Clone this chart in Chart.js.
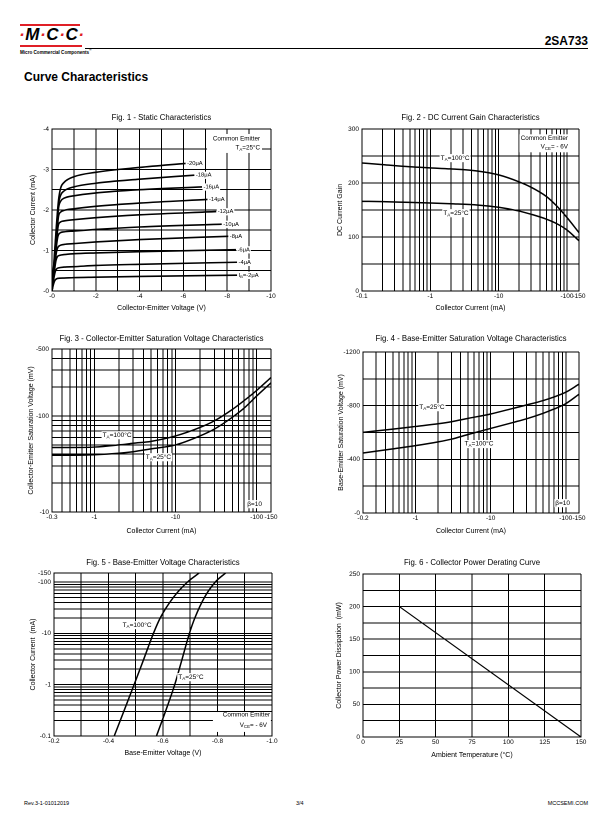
<!DOCTYPE html>
<html>
<head>
<meta charset="utf-8">
<script src="https://cdn.jsdelivr.net/npm/chart.js@4.4.1/dist/chart.umd.min.js"></script>
<style>
  body { margin: 0; width: 612px; height: 825px; position: relative; overflow: hidden; background: #fff;
         font-family: "Liberation Sans", Arial, sans-serif; color: #000; }
  canvas { position: absolute; }
  .bar { position: absolute; left: 20px; height: 2.5px; background: #e01f26; }
  .mcc { position: absolute; left: 19px; top: 25px; font-size: 17px; font-weight: bold; font-style: italic; letter-spacing: 0.6px; }
  .mcc span { color: #e01f26; }
  .mccsub { position: absolute; left: 20px; top: 47.5px; font-size: 4.6px; font-weight: bold; white-space: nowrap; }
  .rule { position: absolute; left: 85px; top: 48px; width: 503px; height: 1px; background: #000; }
  .part { position: absolute; right: 24px; top: 34px; font-size: 12px; font-weight: bold; }
  .heading { position: absolute; left: 24px; top: 70px; font-size: 12px; font-weight: bold; }
  .foot { position: absolute; top: 800px; font-size: 5.5px; }
</style>
</head>
<body>
<div class="bar" style="top:23.5px;width:60px"></div>
<div class="mcc"><span>·</span>M<span>·</span>C<span>·</span>C<span>·</span></div>
<div class="bar" style="top:44.5px;width:62px"></div>
<div class="mccsub">Micro Commercial Components<sup style="font-size:3px">®</sup></div>
<div class="rule"></div>
<div class="part">2SA733</div>
<div class="heading">Curve Characteristics</div>

<canvas id="fig1"></canvas>
<canvas id="fig2"></canvas>
<canvas id="fig3"></canvas>
<canvas id="fig4"></canvas>
<canvas id="fig5"></canvas>
<canvas id="fig6"></canvas>

<div class="foot" style="left:24px">Rev.3-1-01012019</div>
<div class="foot" style="left:296px">3/4</div>
<div class="foot" style="right:24px">MCCSEMI.COM</div>

<script>
// PNP part: currents and voltages are negative, as printed on the axes.

// Fig. 1 - Static characteristics, [Vce (V), Ic (mA)] for each base current
const ib20 = [[0,0],[-0.1,-0.8],[-0.2,-1.6],[-0.3,-2.25],[-0.4,-2.55],[-0.55,-2.68],[-1,-2.82],[-2,-2.93],[-4,-3.05],[-6.1,-3.15]];
const ib18 = [[0,0],[-0.1,-0.75],[-0.2,-1.5],[-0.3,-2.15],[-0.4,-2.37],[-0.55,-2.47],[-1,-2.57],[-2,-2.66],[-4,-2.76],[-6.5,-2.86]];
const ib16 = [[0,0],[-0.1,-0.7],[-0.2,-1.4],[-0.3,-2.05],[-0.4,-2.22],[-0.55,-2.29],[-1,-2.35],[-2,-2.42],[-4,-2.5],[-6.85,-2.57]];
const ib14 = [[0,0],[-0.1,-0.65],[-0.2,-1.3],[-0.3,-1.85],[-0.4,-1.95],[-0.55,-1.99],[-1,-2.03],[-2,-2.09],[-4,-2.17],[-7.1,-2.26]];
const ib12 = [[0,0],[-0.1,-0.6],[-0.2,-1.2],[-0.28,-1.6],[-0.38,-1.7],[-0.55,-1.73],[-1,-1.76],[-2,-1.81],[-4,-1.88],[-7.5,-1.96]];
const ib10 = [[0,0],[-0.1,-0.55],[-0.2,-1.1],[-0.27,-1.35],[-0.36,-1.43],[-0.55,-1.46],[-1,-1.48],[-2,-1.52],[-4,-1.58],[-7.75,-1.65]];
const ib8  = [[0,0],[-0.1,-0.5],[-0.2,-0.95],[-0.26,-1.07],[-0.35,-1.12],[-0.55,-1.15],[-1,-1.17],[-2,-1.21],[-4,-1.27],[-8.05,-1.35]];
const ib6  = [[0,0],[-0.1,-0.45],[-0.18,-0.75],[-0.25,-0.85],[-0.35,-0.88],[-0.55,-0.9],[-1,-0.92],[-2,-0.94],[-4,-0.97],[-8.4,-1.02]];
const ib4  = [[0,0],[-0.08,-0.3],[-0.15,-0.48],[-0.22,-0.55],[-0.3,-0.57],[-0.55,-0.59],[-1,-0.6],[-2,-0.63],[-4,-0.66],[-8.45,-0.71]];
const ib2  = [[0,0],[-0.06,-0.15],[-0.12,-0.25],[-0.18,-0.29],[-0.25,-0.31],[-0.55,-0.32],[-1,-0.33],[-2,-0.34],[-4,-0.36],[-8.45,-0.39]];
const fig1Curves = [ib20, ib18, ib16, ib14, ib12, ib10, ib8, ib6, ib4, ib2];
const fig1CurveLabels = ['-20μA', '-18μA', '-16μA', '-14μA', '-12μA', '-10μA', '-8μA', '-6μA', '-4μA', 'I_{B}=-2μA'];
const fig1XTicks = [0,1,2,3,4,5,6,7,8,9,10];
const fig1XLabels = [0,2,4,6,8,10];
const fig1YTicks = [0,0.5,1,1.5,2,2.5,3,3.5,4];
const fig1YLabels = [0,1,2,3,4];

// Fig. 2 - DC current gain vs collector current (mA)
const fig2Ic = [-0.1,-0.2,-0.5,-1,-2,-5,-10,-20,-30,-50,-70,-100,-150];
const fig2Hfe100 = [237,234,230,228,226,222,215,202,192,175,158,136,108];
const fig2Hfe25 = [166,165.5,164,163,161.5,159,155,148,142,133,125,113,93];
const fig2XTicks = [0.1,0.2,0.3,0.4,0.5,0.6,0.7,0.8,0.9,1,2,3,4,5,6,7,8,9,10,20,30,40,50,60,70,80,90,100,150];
const fig2XLabels = [0.1,1,10,100,150];
const fig2YTicks = [0,50,100,150,200,250,300];
const fig2YLabels = [0,100,200,300];

// Fig. 3 - Vce(sat) (mV) vs collector current (mA)
const fig3Ic = [-0.3,-0.5,-1,-2,-3,-5,-10,-20,-30,-50,-70,-100,-150];
const fig3Vce100 = [-47,-47,-47.5,-50,-52,-54.5,-62,-76,-89,-117,-145,-185,-252];
const fig3Vce25 = [-39,-39,-39.5,-41,-42.5,-45.5,-50,-62,-73,-97,-121,-162,-222];
const fig3XTicks = [0.3,0.4,0.5,0.6,0.7,0.8,0.9,1,2,3,4,5,6,7,8,9,10,20,30,40,50,60,70,80,90,100,150];
const fig3XLabels = [0.3,1,10,100,150];
const fig3YTicks = [10,20,30,40,50,60,70,80,90,100,200,300,400,500];
const fig3YLabels = [10,100,500];

// Fig. 4 - Vbe(sat) (mV) vs collector current (mA)
const fig4Ic = [-0.2,-0.5,-1,-2,-3,-5,-10,-20,-30,-50,-70,-100,-150];
const fig4Vbe25 = [-601,-625,-645,-665,-680,-705,-738,-780,-805,-838,-865,-900,-960];
const fig4Vbe100 = [-447,-478,-502,-530,-550,-585,-630,-675,-702,-743,-775,-815,-885];
const fig4XTicks = [0.2,0.3,0.4,0.5,0.6,0.7,0.8,0.9,1,2,3,4,5,6,7,8,9,10,20,30,40,50,60,70,80,90,100,150];
const fig4XLabels = [0.2,1,10,100,150];
const fig4YTicks = [0,200,400,600,800,1000,1200];
const fig4YLabels = [0,400,800,1200];

// Fig. 5 - collector current (mA) vs base-emitter voltage (V)
const fig5Ic = [-0.1,-0.3,-1,-3,-10,-20,-50,-100,-150];
const fig5Vbe100 = [-0.421,-0.456,-0.494,-0.528,-0.565,-0.59,-0.638,-0.69,-0.733];
const fig5Vbe25 = [-0.576,-0.609,-0.643,-0.669,-0.697,-0.717,-0.752,-0.792,-0.83];
const fig5XTicks = [0.2,0.3,0.4,0.5,0.6,0.7,0.8,0.9,1.0];
const fig5XLabels = [0.2,0.4,0.6,0.8,1.0];
const fig5YTicks = [0.1,0.2,0.3,0.4,0.5,0.6,0.7,0.8,0.9,1,2,3,4,5,6,7,8,9,10,20,30,40,50,60,70,80,90,100,150];
const fig5YLabels = [0.1,1,10,100,150];

// Fig. 6 - power derating
const fig6Temp = [25, 150];
const fig6Power = [200, 0];
const fig6XTicks = [0,25,50,75,100,125,150];
const fig6YTicks = [0,25,50,75,100,125,150,175,200,225,250];
const fig6YLabels = [0,50,100,150,200,250];

const FONT = '"Liberation Sans", Arial, sans-serif';

// text with _{subscript} parts, optional white background
function drawRich(ctx, str, x, y, size, align, bg) {
  const parts = [];
  str.split(/(_\{[^}]*\})/).forEach(s => {
    if (!s) return;
    if (s.startsWith('_{')) parts.push({ t: s.slice(2, -1), sub: true });
    else parts.push({ t: s, sub: false });
  });
  let w = 0;
  parts.forEach(p => {
    ctx.font = (p.sub ? size * 0.7 : size) + 'px ' + FONT;
    p.w = ctx.measureText(p.t).width;
    w += p.w;
  });
  let x0 = align === 'left' ? x : align === 'right' ? x - w : x - w / 2;
  if (bg) {
    ctx.fillStyle = '#fff';
    ctx.fillRect(x0 - 1, y - size * 0.6, w + 2, size * 1.25);
  }
  ctx.fillStyle = '#000';
  ctx.textAlign = 'left';
  ctx.textBaseline = 'middle';
  parts.forEach(p => {
    ctx.font = (p.sub ? size * 0.7 : size) + 'px ' + FONT;
    ctx.fillText(p.t, x0, p.sub ? y + size * 0.3 : y);
    x0 += p.w;
  });
}

// white boxes and labels placed by fraction of the plot area
function notes(cfg) {
  return {
    id: 'notes',
    beforeDatasetsDraw(chart) {
      const a = chart.chartArea, ctx = chart.ctx;
      (cfg.boxes || []).forEach(b => {
        const x0 = a.left + b[0] * a.width, y0 = a.top + b[1] * a.height;
        ctx.fillStyle = '#fff';
        ctx.fillRect(x0, y0, (b[2] - b[0]) * a.width, (b[3] - b[1]) * a.height);
      });
    },
    afterDatasetsDraw(chart) {
      const a = chart.chartArea, ctx = chart.ctx;
      ctx.save();
      (cfg.texts || []).forEach(t => {
        drawRich(ctx, t.text, a.left + t.fx * a.width, a.top + t.fy * a.height, t.size || 6.5, t.align || 'center', t.bg);
      });
      if (cfg.endLabels) {
        chart.data.datasets.forEach((ds, i) => {
          const pts = chart.getDatasetMeta(i).data;
          const p = pts[pts.length - 1];
          drawRich(ctx, cfg.endLabels[i], p.x + 1.5, p.y, 5.8, 'left', true);
        });
      }
      ctx.restore();
    }
  };
}

function axis(o) {
  return {
    type: o.type || 'linear',
    min: o.min, max: o.max,
    afterFit: s => { if (s.isHorizontal()) s.height = 24; else s.width = 32; },
    afterBuildTicks: s => { s.ticks = o.ticks.map(v => ({ value: v })); },
    grid: { color: '#000', lineWidth: 1, drawTicks: false },
    border: { color: '#000', width: 1 },
    ticks: {
      font: { family: FONT, size: 6.5 }, color: '#000', autoSkip: false, maxRotation: 0,
      padding: o.horiz ? 1.5 : 3,
      callback: v => o.labels.some(l => Math.abs(l - v) < 1e-9) ? o.fmt(v) : ''
    },
    title: {
      display: true, text: o.title, color: '#000', font: { family: FONT, size: 7 },
      padding: o.horiz ? { top: 0, bottom: o.tpad } : { top: o.tpad, bottom: 0 }
    }
  };
}

const neg = v => '-' + v;

function makeChart(id, geo, title, tpad, datasets, xAxis, yAxis, plugin) {
  const c = document.getElementById(id);
  const w = geo.R - geo.L + 64, h = geo.B - geo.T + 22 + 24;
  c.style.left = (geo.L - 32) + 'px';
  c.style.top = (geo.T - 22) + 'px';
  c.width = w; c.height = h;
  c.style.width = w + 'px'; c.style.height = h + 'px';
  return new Chart(c, {
    type: 'line',
    data: { datasets: datasets },
    options: {
      responsive: false, animation: false, devicePixelRatio: 2,
      layout: { padding: { left: 0, right: 32, top: 0, bottom: 0 } },
      plugins: {
        legend: { display: false }, tooltip: { enabled: false },
        title: { display: true, fullSize: false, text: title, color: '#000',
                 font: { family: FONT, size: 7.8, weight: 'normal' },
                 padding: { top: tpad[0], bottom: tpad[1] } }
      },
      scales: { x: xAxis, y: yAxis }
    },
    plugins: [plugin]
  });
}

function curve(xs, ys, width) {
  return {
    data: xs.map((x, i) => ({ x: Math.abs(x), y: Math.abs(ys[i]) })),
    borderColor: '#000', borderWidth: width || 1.5, pointRadius: 0,
    cubicInterpolationMode: 'monotone', fill: false
  };
}
function curvePairs(pts, width) {
  return curve(pts.map(p => p[0]), pts.map(p => p[1]), width);
}

// Fig. 1
makeChart('fig1', { L: 52, R: 271, T: 129, B: 291 }, 'Fig. 1 - Static Characteristics', [6.3, 6.3],
  fig1Curves.map(c => curvePairs(c, 1.6)),
  axis({ min: 0, max: 10, ticks: fig1XTicks, labels: fig1XLabels, fmt: neg, horiz: true,
         title: 'Collector-Emitter Voltage (V)', tpad: 2.8 }),
  axis({ min: 0, max: 4, ticks: fig1YTicks, labels: fig1YLabels, fmt: neg,
         title: 'Collector Current (mA)', tpad: 8.8 }),
  notes({
    boxes: [[0.708, 0.031, 0.959, 0.148]],
    texts: [
      { text: 'Common Emitter', fx: 0.95, fy: 0.062, align: 'right', size: 6.3 },
      { text: 'T_{A}=25°C', fx: 0.95, fy: 0.117, align: 'right', size: 6.3 }
    ],
    endLabels: fig1CurveLabels
  }));

// Fig. 2
makeChart('fig2', { L: 362, R: 579, T: 129, B: 291 }, 'Fig. 2 - DC Current Gain Characteristics', [6.3, 6.3],
  [curve(fig2Ic, fig2Hfe100), curve(fig2Ic, fig2Hfe25)],
  axis({ type: 'logarithmic', min: 0.1, max: 150, ticks: fig2XTicks, labels: fig2XLabels, fmt: neg, horiz: true,
         title: 'Collector Current (mA)', tpad: 2.8 }),
  axis({ min: 0, max: 300, ticks: fig2YTicks, labels: fig2YLabels, fmt: v => String(v),
         title: 'DC Current Gain', tpad: 5.8 }),
  notes({
    boxes: [[0.725, 0.033, 0.955, 0.144]],
    texts: [
      { text: 'Common Emitter', fx: 0.949, fy: 0.056, align: 'right', size: 6.3 },
      { text: 'V_{CE}= - 6V', fx: 0.949, fy: 0.111, align: 'right', size: 6.3 },
      { text: 'T_{A}=100°C', fx: 0.429, fy: 0.179, bg: true },
      { text: 'T_{A}=25°C', fx: 0.433, fy: 0.519, bg: true }
    ]
  }));

// Fig. 3
makeChart('fig3', { L: 52, R: 271, T: 349, B: 512 }, 'Fig. 3 - Collector-Emitter Saturation Voltage Characteristics', [7.3, 5.3],
  [curve(fig3Ic, fig3Vce100), curve(fig3Ic, fig3Vce25)],
  axis({ type: 'logarithmic', min: 0.3, max: 150, ticks: fig3XTicks, labels: fig3XLabels, fmt: neg, horiz: true,
         title: 'Collector Current (mA)', tpad: 0.8 }),
  axis({ type: 'logarithmic', min: 10, max: 500, ticks: fig3YTicks, labels: fig3YLabels, fmt: neg,
         title: 'Collector-Emitter Saturation Voltage (mV)', tpad: 6.8 }),
  notes({
    texts: [
      { text: 'T_{A}=100°C', fx: 0.297, fy: 0.528, bg: true },
      { text: 'T_{A}=25°C', fx: 0.486, fy: 0.663, bg: true },
      { text: 'β=10', fx: 0.925, fy: 0.951, bg: true }
    ]
  }));

// Fig. 4
makeChart('fig4', { L: 363, R: 579, T: 352, B: 513 }, 'Fig. 4 - Base-Emitter Saturation Voltage Characteristics', [4.3, 8.3],
  [curve(fig4Ic, fig4Vbe25), curve(fig4Ic, fig4Vbe100)],
  axis({ type: 'logarithmic', min: 0.2, max: 150, ticks: fig4XTicks, labels: fig4XLabels, fmt: neg, horiz: true,
         title: 'Collector Current (mA)', tpad: 1.8 }),
  axis({ min: 0, max: 1200, ticks: fig4YTicks, labels: fig4YLabels, fmt: neg,
         title: 'Base-Emitter Saturation Voltage (mV)', tpad: 5.8 }),
  notes({
    texts: [
      { text: 'T_{A}=25°C', fx: 0.319, fy: 0.342, bg: true },
      { text: 'T_{A}=100°C', fx: 0.537, fy: 0.571, bg: true },
      { text: 'β=10', fx: 0.924, fy: 0.938, bg: true }
    ]
  }));

// Fig. 5
makeChart('fig5', { L: 54, R: 272, T: 573, B: 736 }, 'Fig. 5 - Base-Emitter Voltage Characteristics', [7.3, 5.3],
  [curve(fig5Vbe100, fig5Ic), curve(fig5Vbe25, fig5Ic)],
  axis({ min: 0.2, max: 1.0, ticks: fig5XTicks, labels: fig5XLabels, fmt: v => '-' + v.toFixed(1), horiz: true,
         title: 'Base-Emitter Voltage (V)', tpad: 2.8 }),
  axis({ type: 'logarithmic', min: 0.1, max: 150, ticks: fig5YTicks, labels: fig5YLabels, fmt: neg,
         title: 'Collector Current  (mA)', tpad: 6.8 }),
  notes({
    boxes: [[0.729, 0.853, 0.995, 0.975]],
    texts: [
      { text: 'T_{A}=100°C', fx: 0.381, fy: 0.319, bg: true },
      { text: 'T_{A}=25°C', fx: 0.628, fy: 0.638, bg: true },
      { text: 'Common Emitter', fx: 0.991, fy: 0.871, align: 'right', size: 6.3 },
      { text: 'V_{CE}= - 6V', fx: 0.977, fy: 0.933, align: 'right', size: 6.3 }
    ]
  }));

// Fig. 6
makeChart('fig6', { L: 363, R: 581, T: 574, B: 737 }, 'Fig. 6 - Collector Power Derating Curve', [6.3, 6.3],
  [curve(fig6Temp, fig6Power, 1.2)],
  axis({ min: 0, max: 150, ticks: fig6XTicks, labels: fig6XTicks, fmt: v => String(v), horiz: true,
         title: 'Ambient Temperature (°C)', tpad: 1.8 }),
  axis({ min: 0, max: 250, ticks: fig6YTicks, labels: fig6YLabels, fmt: v => String(v),
         title: 'Collector Power Dissipation  (mW)', tpad: 3.8 }),
  notes({}));
</script>
</body>
</html>
